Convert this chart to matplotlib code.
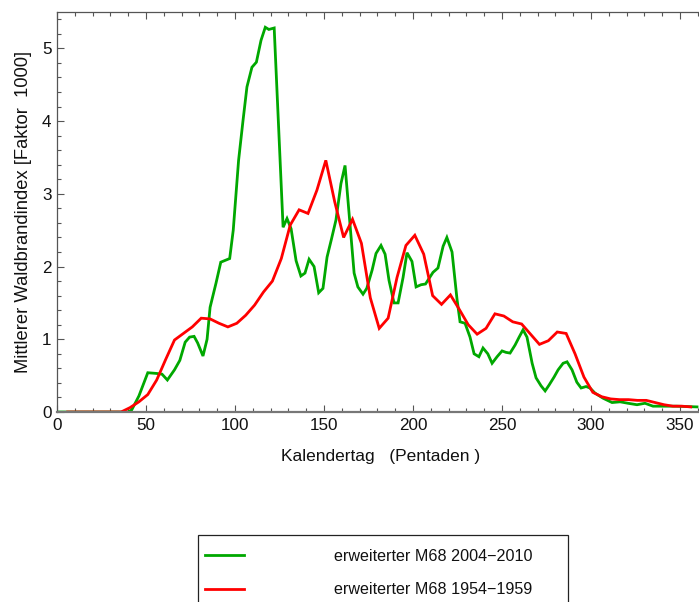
import matplotlib
matplotlib.use("Agg")
import matplotlib.pyplot as plt
from matplotlib.ticker import MultipleLocator
from matplotlib.patches import Rectangle

plt.rcParams['font.family'] = ['Liberation Sans', 'DejaVu Sans']

# Green: erweiterter M68 2004-2010
green_x = [0, 5, 10, 15, 20, 25, 30, 35, 40, 42, 46, 51, 56, 59, 62, 66, 69, 72, 74.5, 77,
           79, 82, 84.3, 86, 89.3, 92, 97, 99, 102, 104.5, 106.7, 109.5, 112, 114.6, 117, 119,
           122, 127, 129.2, 131.5, 134.3, 137, 139.3, 141.6, 144.4, 147, 149.4, 151.7, 154.2,
           156.7, 159.5, 161.8, 164, 166.9, 169, 171.9, 174, 177, 179.2, 182, 184.3, 186.5,
           189.3, 191.6, 194.4, 196.6, 199.4, 201.7, 204.5, 207, 211.2, 214, 216.9, 219, 221.9,
           224.7, 226.4, 229.2, 232, 234.3, 237, 239.3, 242, 244.4, 247.2, 250, 252.2, 254.5,
           257.3, 259.6, 261.8, 264, 266.9, 269.1, 271.9, 274.2, 276.4, 279.2, 281.5, 284.3,
           286.5, 289.3, 292, 294.4, 297.2, 299.4, 302.2, 306.7, 311.8, 316.3, 320.8, 325.8,
           330.3, 334.8, 340.4, 348, 359.5]
green_y = [0, 0, 0, 0, 0, 0, 0, 0, 0, 0.03, 0.22, 0.54, 0.53, 0.52, 0.44, 0.58, 0.71, 0.96, 1.03, 1.04,
           0.95, 0.77, 1.00, 1.44, 1.77, 2.06, 2.11, 2.50, 3.46, 4.01, 4.47, 4.74, 4.81, 5.11, 5.29, 5.26,
           5.28, 2.54, 2.66, 2.52, 2.08, 1.87, 1.91, 2.10, 2.00, 1.64, 1.70, 2.13, 2.38,
           2.64, 3.14, 3.39, 2.75, 1.91, 1.72, 1.62, 1.70, 1.95, 2.18, 2.29, 2.17, 1.81,
           1.50, 1.50, 1.85, 2.19, 2.07, 1.72, 1.75, 1.76, 1.92, 1.98, 2.28, 2.40, 2.20,
           1.55, 1.24, 1.22, 1.03, 0.80, 0.76, 0.88, 0.80, 0.67, 0.76, 0.84, 0.82, 0.81,
           0.92, 1.03, 1.13, 1.03, 0.67, 0.47, 0.36, 0.29, 0.37, 0.48, 0.58, 0.67,
           0.69, 0.58, 0.41, 0.33, 0.35, 0.33, 0.26, 0.19, 0.13, 0.14, 0.12, 0.10,
           0.12, 0.08, 0.08, 0.08, 0.07]

# Red: erweiterter M68 1954-1959
red_x = [6, 11, 16, 21, 26, 31, 36, 41, 46, 51, 56, 61, 66, 71, 76, 81, 86, 91, 96, 101, 106,
         111, 116, 121, 126, 131, 136, 141, 146, 151, 156, 161, 166, 171, 176, 181, 186, 191,
         196, 201, 206, 211, 216, 221, 226, 231, 236, 241, 246, 251, 256, 261, 266, 271, 276,
         281, 286, 291, 296, 301, 306, 311, 316, 321, 326, 331, 336, 341, 346, 351, 356]
red_y = [0, 0, 0, 0, 0, 0, 0, 0.06, 0.14, 0.24, 0.44, 0.72, 0.99, 1.08, 1.17, 1.29, 1.28, 1.22, 1.17, 1.22, 1.33,
         1.47, 1.65, 1.80, 2.11, 2.57, 2.78, 2.73, 3.05, 3.46, 2.89, 2.40, 2.65, 2.32, 1.57, 1.15, 1.29, 1.85,
         2.29, 2.43, 2.17, 1.60, 1.48, 1.61, 1.41, 1.20, 1.07, 1.15, 1.35, 1.32, 1.24, 1.21, 1.07, 0.93, 0.98,
         1.10, 1.08, 0.80, 0.48, 0.27, 0.21, 0.18, 0.17, 0.17, 0.16, 0.16, 0.13, 0.10, 0.08, 0.08, 0.07]

labels = ["erweiterter M68 2004\u22122010", "erweiterter M68 1954\u22121959"]
colors = ["#00A800", "#FF0000"]

W, H = 699, 602
fig = plt.figure(figsize=(W / 100, H / 100), dpi=100)
ax = fig.add_axes([57 / W, (H - 412) / H, 648 / W, 400 / H])

l1, = ax.plot(green_x, green_y, color=colors[0], lw=2.0, solid_joinstyle='miter')
l2, = ax.plot(red_x, red_y, color=colors[1], lw=2.0, solid_joinstyle='miter')

ax.set_xlim(0, 364)
ax.set_ylim(0, 5.5)
ax.xaxis.set_major_locator(MultipleLocator(50))
ax.xaxis.set_minor_locator(MultipleLocator(10))
ax.yaxis.set_major_locator(MultipleLocator(1))
ax.yaxis.set_minor_locator(MultipleLocator(0.2))

ax.tick_params(which='both', direction='in', top=True, right=False, color='#555555',
               labelsize=12.3, labelcolor='#111111', width=0.8)
ax.tick_params(which='major', length=5, pad=4)
ax.tick_params(which='minor', length=3)

for s in ['left', 'top']:
    ax.spines[s].set_color('#555555')
    ax.spines[s].set_linewidth(0.9)
ax.spines['right'].set_visible(False)
ax.spines['bottom'].set_color('#777777')
ax.spines['bottom'].set_linewidth(1.6)

ax.set_xlabel("Kalendertag   (Pentaden )", fontsize=12.5, color='#111111', labelpad=12)
ax.set_ylabel("Mittlerer Waldbrandindex [Faktor  1000]", fontsize=13.2, color='#111111', labelpad=7)

# legend box
fig.patches.append(Rectangle((198 / W, (H - 640) / H), 370 / W, 105 / H,
                             transform=fig.transFigure, fill=False, edgecolor='#222222',
                             linewidth=0.9, clip_on=False))
leg = fig.legend([l1, l2], labels, loc='upper left', bbox_to_anchor=(200 / W, (H - 544) / H),
                 frameon=False, fontsize=11.6, handlelength=2.4, handletextpad=5.6,
                 labelspacing=1.15, borderaxespad=0, borderpad=0.3)
for t in leg.get_texts():
    t.set_color('#111111')

fig.savefig("out.png", dpi=100)
